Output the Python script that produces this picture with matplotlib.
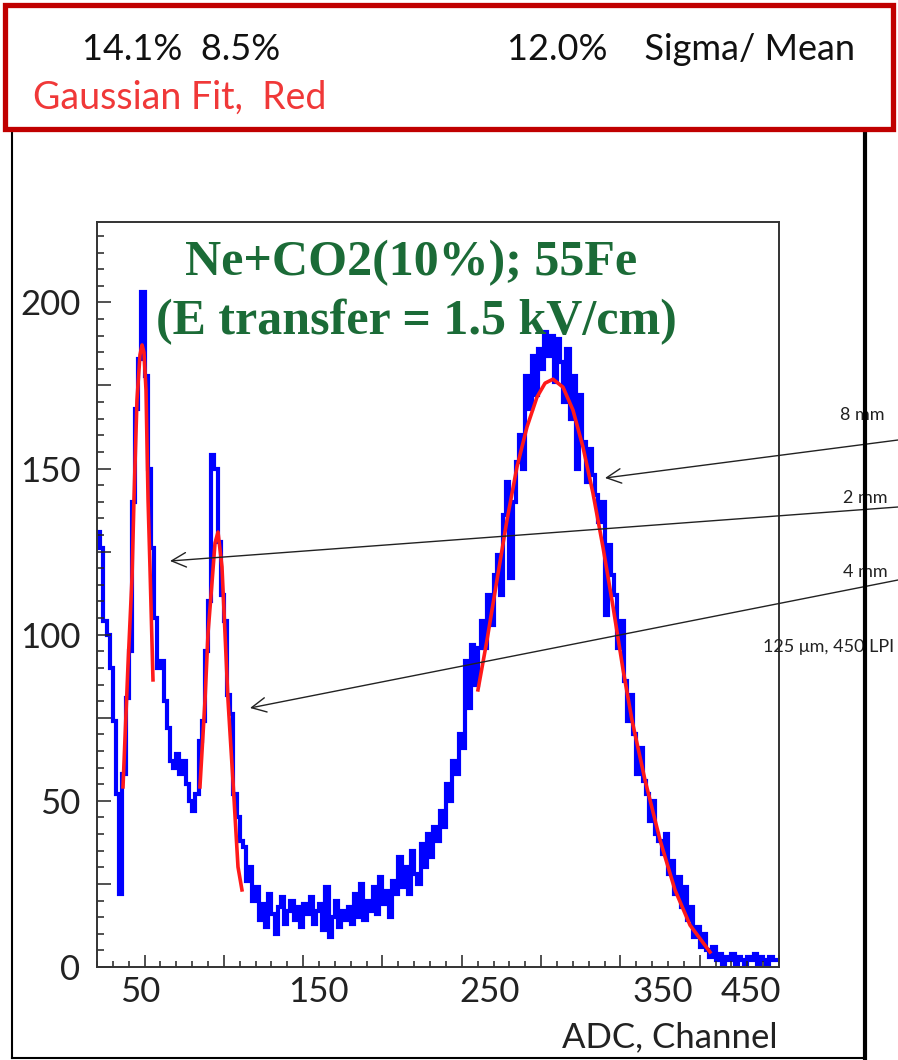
import numpy as np
import matplotlib
matplotlib.use("Agg")
import matplotlib.pyplot as plt
from matplotlib.patches import Rectangle
from matplotlib.ticker import MultipleLocator

plt.rcParams['font.family'] = ['Lato', 'DejaVu Sans']

# ADC histogram (blue), 2-channel bins starting at channel 20
bin_width = 2
first_edge = 20
counts = [
    # ch 20 - 118
    131, 126, 104, 100, 90, 74, 52, 22, 58, 81,
    95, 140, 168, 183, 203, 178, 150, 126, 105, 90,
    92, 80, 72, 62, 60, 64, 58, 62, 55, 50,
    47, 52, 68, 74, 95, 110, 154, 150, 128, 112,
    104, 82, 76, 52, 45, 38, 36, 26, 30, 20,
    # ch 120 - 248
    24, 14, 19, 12, 22, 16, 10, 18, 21, 13,
    17, 20, 14, 18, 12, 19, 16, 21, 13, 17,
    19, 11, 24, 9, 15, 20, 12, 17, 14, 18,
    13, 22, 15, 25, 14, 20, 17, 24, 16, 27,
    19, 23, 15, 26, 22, 33, 24, 30, 22, 35,
    28, 25, 37, 30, 40, 33, 42, 38, 47, 42,
    55, 50, 62, 58, 70,
    # ch 250 - 402
    66, 92, 78, 97, 85, 96, 104, 96, 112, 103,
    118, 124, 112, 136, 146, 117, 140, 152, 160, 150,
    178, 168, 184, 172, 186, 180, 191, 184, 190, 176,
    189, 182, 170, 186, 165, 178, 150, 172, 158, 146,
    156, 148, 142, 134, 140, 106, 127, 118, 112, 96,
    104, 86, 74, 82, 70, 58, 66, 56, 52, 44,
    50, 40, 38, 34, 40, 28, 32, 22, 27, 18,
    24, 14, 18, 9, 12, 6, 10,
    # ch 404 - 448
    5, 3, 6, 2, 4, 1, 3, 2, 4, 1,
    3, 2, 1, 3, 2, 4, 1, 3, 2, 1,
    3, 2, 2,
]

# Gaussian fits (red)
fit1_x = [36.4, 39.5, 42.1, 43.3, 45.2, 47.1, 48.4, 49.6, 50.9, 52.2, 53.4, 55.3]
fit1_y = [54.2, 90.3, 117.4, 140.5, 170.6, 184.2, 187.2, 185.0, 173.6, 140.5, 120.4, 86.4]
fit2_x = [84.9, 88.1, 90.0, 92.5, 94.4, 96.3, 98.8, 100.7, 102.6, 105.8, 108.9, 111.4]
fit2_y = [54.2, 80.3, 100.5, 115.6, 127.6, 130.9, 120.4, 100.5, 80.3, 55.4, 30.1, 23.2]
fit3_x = [260.2, 265.9, 272.2, 278.5, 284.8, 291.1, 297.4, 302.5, 307.5, 313.8, 320.1,
          326.4, 332.7, 339.0, 345.4, 351.7, 357.3, 365.5, 375.0, 384.4, 393.9, 406.5]
fit3_y = [83.4, 98.4, 116.5, 134.5, 150.5, 162.5, 171.5, 175.7, 176.9, 174.5, 167.6,
          156.5, 142.6, 126.4, 108.3, 89.4, 74.3, 56.3, 38.2, 23.2, 12.6, 4.5]

y_labels = ['0', '50', '100', '150', '200']
x_labels = ['50', '150', '250', '350', '450']
top_left = "14.1%  8.5%"
top_right = "12.0%    Sigma/ Mean"
fit_note = "Gaussian Fit,  Red"
title_lines = ["Ne+CO2(10%); 55Fe", "(E transfer = 1.5 kV/cm)"]
arrow_labels = ["8 mm", "2 mm", "4 mm", "125 μm, 450 LPI"]

fig = plt.figure(figsize=(8.98, 10.6), dpi=100)
W, H = 898, 1060

ax = fig.add_axes([97 / W, 93 / H, 682 / W, 745 / H])
edges = first_edge + bin_width * np.arange(len(counts) + 1)
ax.stairs(counts, edges, color='#0000ff', lw=3.0, baseline=None)
for fx, fy in [(fit1_x, fit1_y), (fit2_x, fit2_y), (fit3_x, fit3_y)]:
    ax.plot(fx, fy, color='#ff1a1a', lw=2.6)

ax.set_xlim(20, 450)
ax.set_ylim(0, 224.2)
ax.xaxis.set_major_locator(MultipleLocator(50))
ax.xaxis.set_minor_locator(MultipleLocator(10))
ax.yaxis.set_major_locator(MultipleLocator(25))
ax.yaxis.set_minor_locator(MultipleLocator(5))
ax.tick_params(axis='both', which='both', direction='in', top=False, right=False,
               color='#222222', width=1.1)
ax.tick_params(axis='x', which='major', length=8.5)
ax.tick_params(axis='x', which='minor', length=4.5)
ax.tick_params(axis='y', which='major', length=10)
ax.tick_params(axis='y', which='minor', length=5)
ax.set_xticklabels([])
ax.set_yticklabels([y_labels[int(v // 50)] if v % 50 == 0 else '' for v in ax.get_yticks()])
ax.tick_params(axis='y', which='major', labelsize=25, pad=12, labelcolor='#222222')
for s in ax.spines.values():
    s.set_color('#333333')
    s.set_linewidth(1.4)

# overlay in pixel coordinates for slide annotations
ov = fig.add_axes([0, 0, 1, 1])
ov.set_xlim(0, W)
ov.set_ylim(H, 0)
ov.axis('off')
ov.patch.set_alpha(0)
ov.set_zorder(3)

for lab, xp in zip(x_labels, [140, 318, 490, 663, 751]):
    ov.text(xp, 992, lab, fontsize=25, color='#222222', ha='center', va='center')
ov.text(778, 1037, "ADC, Channel", fontsize=25, color='#222222', ha='right', va='center')

green = '#1b6b37'
ov.text(411, 263, title_lines[0], fontsize=36, color=green, ha='center', va='center',
        family='Liberation Serif', weight='bold')
ov.text(416, 322, title_lines[1], fontsize=36, color=green, ha='center', va='center',
        family='Liberation Serif', weight='bold')

arrows = [((605, 478), (898, 440)), ((170, 561), (898, 507)), ((250, 708), (898, 580))]
for head, tail in arrows:
    ov.annotate('', xy=head, xytext=tail, annotation_clip=False,
                arrowprops=dict(arrowstyle='->', color='#222222', lw=1.0,
                                mutation_scale=26, shrinkA=0, shrinkB=0))
for lab, (xp, yp) in zip(arrow_labels, [(840, 415), (843, 498), (843, 572), (763, 647)]):
    ov.text(xp, yp, lab, fontsize=13, color='#222222', ha='left', va='center')

# slide frames
ov.plot([12, 12], [130, 1058], color='black', lw=1.5)
ov.plot([12, 865], [1058, 1058], color='black', lw=1.5)
ov.plot([12, 865], [130, 130], color='black', lw=1.5)
ov.plot([865, 865], [130, 1060], color='black', lw=3, zorder=5)
ov.add_patch(Rectangle((5, 5), 888, 124, fill=False, ec='#c00000', lw=3.8, zorder=6))

ov.text(82, 50, top_left, fontsize=26, color='#111111', ha='left', va='center')
ov.text(855, 50, top_right, fontsize=26, color='#111111', ha='right', va='center')
ov.text(33, 98, fit_note, fontsize=27, color='#f03838', ha='left', va='center')

fig.savefig("out.png", dpi=100)
